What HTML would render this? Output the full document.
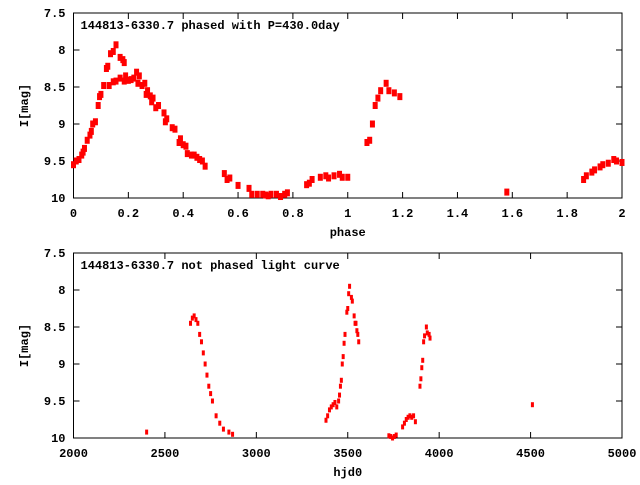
<!DOCTYPE html>
<html><head><meta charset="utf-8"><style>
html,body{margin:0;padding:0;background:#fff;}
svg text{font-family:"Liberation Mono","DejaVu Sans Mono",monospace;font-weight:bold;font-size:12px;fill:#000;}
</style></head><body>
<svg id="chart" width="640" height="480" xmlns="http://www.w3.org/2000/svg"></svg>
<script>
const phasedPhase=[0,0.01,0.02,0.03,0.035,0.04,0.05,0.06,0.065,0.07,0.08,0.09,0.095,0.1,0.11,0.12,0.125,0.135,0.145,0.155,0.17,0.18,0.185,
0.13,0.145,0.155,0.17,0.185,0.19,0.2,0.21,0.22,0.23,0.235,0.24,0.25,0.26,0.265,0.27,0.28,0.285,0.29,0.3,0.31,0.33,0.335,0.34,0.36,0.37,0.385,0.39,0.4,0.41,0.415,0.43,0.44,0.45,0.46,0.47,0.48,
0.55,0.56,0.57,0.6,0.64,0.65,0.67,0.69,0.7,0.71,0.72,0.74,0.755,0.77,0.78,0.85,0.86,0.87,0.9,0.92,0.93,0.95,0.97,0.98,1.0,
1.07,1.08,1.09,1.1,1.11,1.12,1.14,1.15,1.17,1.19,1.58,1.86,1.87,1.89,1.9,1.92,1.93,1.95,1.97,1.98,2.0];
const phasedMag=[9.55,9.5,9.48,9.42,9.38,9.33,9.22,9.15,9.1,9.0,8.97,8.75,8.63,8.6,8.48,8.25,8.22,8.05,8.02,7.93,8.1,8.13,8.17,
8.48,8.43,8.42,8.38,8.42,8.35,8.41,8.4,8.38,8.3,8.45,8.35,8.48,8.45,8.6,8.55,8.62,8.7,8.65,8.78,8.75,8.85,8.97,8.93,9.05,9.07,9.25,9.2,9.28,9.3,9.4,9.42,9.42,9.45,9.48,9.5,9.57,
9.67,9.75,9.73,9.83,9.87,9.95,9.95,9.95,9.96,9.97,9.95,9.95,9.98,9.95,9.93,9.82,9.8,9.75,9.72,9.7,9.73,9.7,9.68,9.72,9.72,
9.25,9.22,9.0,8.75,8.65,8.55,8.45,8.55,8.58,8.63,9.92,9.75,9.7,9.65,9.62,9.58,9.55,9.53,9.48,9.5,9.52];
const hjd=[2400,2640,2650,2660,2670,2680,2690,2700,2710,2720,2730,2740,2750,2760,2780,2800,2820,2850,2870,
3381,3390,3400,3410,3420,3430,3440,3450,3455,3460,3465,3470,3475,3480,3485,3495,3500,3505,3510,3520,3525,3535,3540,3545,3550,3555,3560,
3725,3735,3745,3755,3765,3800,3810,3820,3830,3840,3850,3860,3870,
3895,3900,3905,3910,3915,3920,3930,3935,3945,3950,4510];
const hjdMag=[9.92,8.45,8.38,8.35,8.4,8.45,8.6,8.7,8.85,9.0,9.15,9.3,9.4,9.5,9.7,9.8,9.88,9.92,9.95,
9.76,9.7,9.62,9.58,9.55,9.52,9.58,9.5,9.42,9.3,9.22,9.0,8.9,8.72,8.6,8.3,8.25,8.05,7.95,8.1,8.15,8.35,8.45,8.45,8.55,8.6,8.7,
9.97,9.98,10.0,9.98,9.96,9.85,9.8,9.75,9.72,9.7,9.72,9.7,9.78,
9.3,9.2,9.05,8.95,8.7,8.62,8.5,8.58,8.6,8.65,9.55];
const phaseTicks=[0,0.2,0.4,0.6,0.8,1,1.2,1.4,1.6,1.8,2];
const hjdTicks=[2000,2500,3000,3500,4000,4500,5000];
const magTicks=[7.5,8,8.5,9,9.5,10];

const NS="http://www.w3.org/2000/svg";
const svg=document.getElementById('chart');
function mk(tag,attrs,parent){const e=document.createElementNS(NS,tag);for(const k in attrs)e.setAttribute(k,attrs[k]);(parent||svg).appendChild(e);return e;}

function panel(o){
  const g=mk('g',{});
  
  
  const L=73.5,R=622,T=o.top,B=o.top+185;
  const sx=v=>L+(v-o.xmin)/(o.xmax-o.xmin)*(R-L);
  const sy=v=>T+(v-7.5)/2.5*(B-T);
  const box=mk('rect',{x:L,y:T,width:R-L,height:B-T,fill:'none',stroke:'#000','stroke-width':1},g);
  
  
  o.xt.forEach(v=>{
    const x=sx(v);
    mk('line',{x1:x,y1:B,x2:x,y2:B-6,stroke:'#000'},g);
    mk('line',{x1:x,y1:T,x2:x,y2:T+6,stroke:'#000'},g);
    const t=mk('text',{x:x,y:B+19,'text-anchor':'middle'},g);
    t.textContent=o.fmt(v);
    
    
  });
  magTicks.forEach(v=>{
    const y=sy(v);
    mk('line',{x1:L,y1:y,x2:L+6,y2:y,stroke:'#000'},g);
    mk('line',{x1:R,y1:y,x2:R-6,y2:y,stroke:'#000'},g);
    const t=mk('text',{x:L-8,y:y+4,'text-anchor':'end'},g);
    t.textContent=String(v);
    
    
  });
  const xl=mk('text',{x:(L+R)/2,y:B+38,'text-anchor':'middle'},g);
  xl.textContent=o.xlabel;
  
  
  const yl=mk('text',{x:0,y:0,'text-anchor':'middle',transform:`translate(28,${(T+B)/2}) rotate(-90)`},g);
  yl.textContent='I[mag]';
  
  
  const ti=mk('text',{x:L+7,y:T+16},g);
  ti.textContent=o.title;
  
  
  o.xs.forEach((v,i)=>{
    const p=mk('rect',{x:sx(v)-o.ms/2,y:sy(o.ys[i])-o.ms/2-1,width:o.ms,height:o.ms+2,fill:'#ff0000'},g);
    
    
  });
}
panel({name:'phased-panel',top:13,xmin:0,xmax:2,xt:phaseTicks,fmt:v=>String(v),xlabel:'phase',
  title:'144813-6330.7 phased with P=430.0day',xs:phasedPhase,ys:phasedMag,ms:5});
panel({name:'unphased-panel',top:253,xmin:2000,xmax:5000,xt:hjdTicks,fmt:v=>String(v),xlabel:'hjd0',
  title:'144813-6330.7 not phased light curve',xs:hjd,ys:hjdMag,ms:3});
</script>
</body></html>
